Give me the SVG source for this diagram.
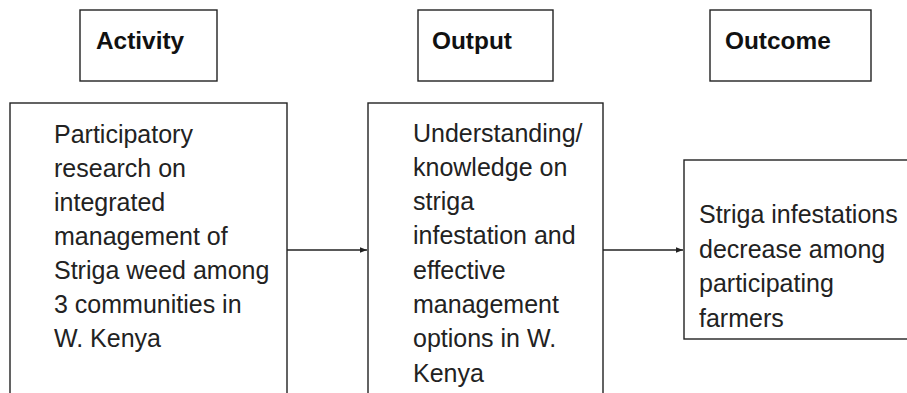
<svg xmlns="http://www.w3.org/2000/svg" width="907" height="393" viewBox="0 0 907 393">
<defs>
<style>
.box{fill:#fff;stroke:#222;stroke-width:1.4}
.hd{font-family:"Liberation Sans",Arial,sans-serif;font-weight:bold;font-size:24.4px;fill:#111}
.tx{font-family:"Liberation Sans",Arial,sans-serif;font-size:25px;fill:#222}
.ln{stroke:#222;stroke-width:1.4;fill:none}
</style>
<marker id="ah" viewBox="0 0 10 10" refX="10" refY="5" markerWidth="7" markerHeight="7" markerUnits="userSpaceOnUse" orient="auto">
<path d="M0,1 L10,5 L0,9 Z" fill="#222"/>
</marker>
</defs>
<rect width="907" height="393" fill="#fff"/>
<g id="activity-header">
<rect class="box" x="80" y="10" width="137" height="71"/>
<text class="hd" x="96" y="49">Activity</text>
</g>
<g id="output-header">
<rect class="box" x="418" y="10" width="135" height="71"/>
<text class="hd" x="432" y="49">Output</text>
</g>
<g id="outcome-header">
<rect class="box" x="710" y="10" width="161" height="71"/>
<text class="hd" x="725" y="49">Outcome</text>
</g>
<g id="activity">
<rect class="box" x="10" y="103" width="277" height="300"/>
<text class="tx" x="54" y="143">Participatory</text>
<text class="tx" x="54" y="177">research on</text>
<text class="tx" x="54" y="211">integrated</text>
<text class="tx" x="54" y="245">management of</text>
<text class="tx" x="54" y="279">Striga weed among</text>
<text class="tx" x="54" y="313">3 communities in</text>
<text class="tx" x="54" y="347">W. Kenya</text>
</g>
<g id="output">
<rect class="box" x="368" y="103" width="235" height="300"/>
<text class="tx" x="413" y="142">Understanding/</text>
<text class="tx" x="413" y="176">knowledge on</text>
<text class="tx" x="413" y="210">striga</text>
<text class="tx" x="413" y="244">infestation and</text>
<text class="tx" x="413" y="279">effective</text>
<text class="tx" x="413" y="313">management</text>
<text class="tx" x="413" y="347">options in W.</text>
<text class="tx" x="413" y="382">Kenya</text>
</g>
<g id="outcome">
<rect class="box" x="684" y="160" width="240" height="179"/>
<text class="tx" x="699" y="223">Striga infestations</text>
<text class="tx" x="699" y="258">decrease among</text>
<text class="tx" x="699" y="292">participating</text>
<text class="tx" x="699" y="327">farmers</text>
</g>
<g id="connectors">
<line class="ln" x1="287" y1="250" x2="367" y2="250" marker-end="url(#ah)"/>
<line class="ln" x1="603" y1="250" x2="683" y2="250" marker-end="url(#ah)"/>
</g>
</svg>
